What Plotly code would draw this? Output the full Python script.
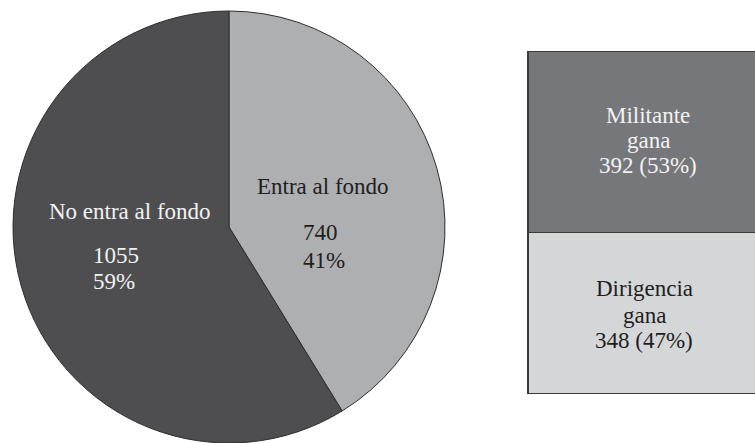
import plotly.graph_objects as go

W, H = 755, 443

# Data
pie_labels = ["Entra al fondo", "No entra al fondo"]
pie_values = [740, 1055]
pie_pcts = ["41%", "59%"]
pie_colors = ["#aeafb1", "#4e4e50"]

bar_labels = ["Dirigencia gana", "Militante gana"]
bar_values = [348, 392]
bar_pcts = ["47%", "53%"]
bar_colors = ["#d5d6d8", "#76777b"]

FONT = "Liberation Serif"
FS = 23

def px(x):
    return x / W

def py(y):
    return min(1.0, max(0.0, 1 - y / H))

fig = go.Figure()

# Pie (clockwise from top)
cx, cy, r = 229, 227, 216
fig.add_trace(go.Pie(
    labels=pie_labels, values=pie_values, sort=False, direction="clockwise",
    rotation=0, marker=dict(colors=pie_colors, line=dict(color="#2e2e2e", width=1)),
    textinfo="none", hoverinfo="label+value+percent", showlegend=False,
    domain=dict(x=[(cx - r) / W, (cx + r) / W], y=[py(cy + r), py(cy - r)]),
))

# Stacked bar
for lab, val, col in zip(bar_labels, bar_values, bar_colors):
    fig.add_trace(go.Bar(
        x=[0], y=[val], width=1, name=lab, showlegend=False,
        marker=dict(color=col, line=dict(color="#3a3a3a", width=1.5)),
        xaxis="x", yaxis="y",
    ))

bar_left, bar_top, bar_bottom = 527, 51, 394
fig.update_layout(
    barmode="stack",
    width=W, height=H,
    margin=dict(l=0, r=0, t=0, b=0),
    paper_bgcolor="white", plot_bgcolor="rgba(0,0,0,0)",
    xaxis=dict(domain=[px(bar_left), 1.0], range=[-0.505, 0.48], visible=False, fixedrange=True),
    yaxis=dict(domain=[py(bar_bottom), py(bar_top)], range=[0, sum(bar_values)],
               visible=False, fixedrange=True),
    font=dict(family=FONT, size=FS),
)

ann = []

def add(text, x, y, color, xanchor="center"):
    ann.append(dict(text=text, x=px(x), y=py(y), xref="paper", yref="paper",
                    xanchor=xanchor, yanchor="middle", showarrow=False,
                    font=dict(family=FONT, size=FS, color=color)))

# Pie labels
add(pie_labels[1], 130, 211, "#f2f2f2")
add(str(pie_values[1]), 91, 255, "#f2f2f2", "left")
add(pie_pcts[1], 91, 281, "#f2f2f2", "left")
add(pie_labels[0], 323, 186, "#1e1e1e")
add(str(pie_values[0]), 301, 232, "#1e1e1e", "left")
add(pie_pcts[0], 301, 260, "#1e1e1e", "left")

# Bar labels
w_top = bar_labels[1].split(" ")
add(w_top[0], 648, 115, "#f2f2f2")
add(w_top[1], 648, 141, "#f2f2f2")
add(f"{bar_values[1]} ({bar_pcts[1]})", 648, 165, "#f2f2f2")
w_bot = bar_labels[0].split(" ")
add(w_bot[0], 644, 288, "#1e1e1e")
add(w_bot[1], 644, 315, "#1e1e1e")
add(f"{bar_values[0]} ({bar_pcts[0]})", 644, 340, "#1e1e1e")

fig.update_layout(annotations=ann)
fig.write_html(
    "out.html",
    config={"displayModeBar": False},
    post_script="document.body.style.margin='0';document.body.style.overflow='hidden';",
)
